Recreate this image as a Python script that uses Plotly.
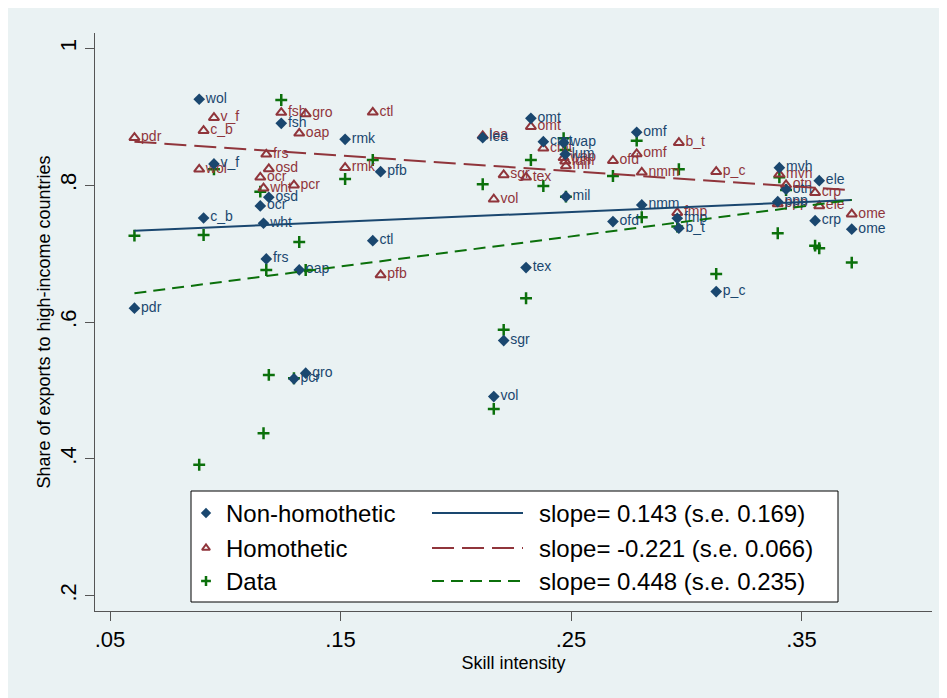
import plotly.graph_objects as go

# ---------------- data ----------------
industries = ["pdr", "wol", "c_b", "v_f", "ocr", "wht", "frs", "osd", "fsh", "pcr",
              "oap", "gro", "rmk", "ctl", "pfb", "lea", "vol", "sgr", "tex", "omt",
              "cmt", "wap", "lum", "mil", "ofd", "omf", "nmm", "fmp", "b_t", "p_c",
              "ppp", "mvh", "otn", "crp", "ele", "ome"]
skill = [0.0606, 0.0887, 0.0906, 0.0951, 0.1152, 0.1166, 0.1178, 0.1189, 0.1243, 0.1298,
         0.1321, 0.1349, 0.1520, 0.1640, 0.1674, 0.2117, 0.2165, 0.2208, 0.2305, 0.2326,
         0.2380, 0.2468, 0.2475, 0.2478, 0.2682, 0.2785, 0.2807, 0.2961, 0.2968, 0.3130,
         0.3397, 0.3404, 0.3433, 0.3559, 0.3577, 0.3718]
nonhomothetic = [0.6202, 0.9255, 0.7520, 0.8310, 0.7696, 0.7443, 0.6922, 0.7823, 0.8904, 0.5169,
                 0.6761, 0.5252, 0.8670, 0.7189, 0.8197, 0.8694, 0.4910, 0.5728, 0.6795, 0.8977,
                 0.8636, 0.8620, 0.8450, 0.7832, 0.7467, 0.8773, 0.7711, 0.7516, 0.7370, 0.6444,
                 0.7759, 0.8256, 0.7940, 0.7481, 0.8066, 0.7356]
homothetic = [0.8694, 0.8232, 0.8796, 0.8986, 0.8115, 0.7955, 0.8451, 0.8237, 0.9060, 0.7999,
              0.8758, 0.9040, 0.8256, 0.9065, 0.6688, 0.8719, 0.7794, 0.8149, 0.8115, 0.8855,
              0.8539, 0.8400, 0.8350, 0.8280, 0.8358, 0.8456, 0.8188, 0.7598, 0.8621, 0.8197,
              0.7725, 0.8159, 0.8003, 0.7890, 0.7696, 0.7575]
data_share = [0.7262, 0.3913, 0.7272, 0.8232, 0.7905, 0.4375, 0.6761, 0.5227, 0.9245, 0.5179,
              0.7170, 0.6760, 0.8090, 0.8368, None, 0.8013, 0.4730, 0.5885, 0.6348, 0.8368,
              0.7988, 0.8685, 0.8514, 0.7832, 0.8134, 0.8650, 0.7531, 0.7394, 0.8232, 0.6703,
              0.7297, 0.8115, 0.7930, 0.7116, 0.7078, 0.6868]

# fitted lines (end points)
fit_x = [0.0606, 0.3718]
fit_nonhom = [0.7335, 0.7784]
fit_hom = [0.8636, 0.7925]
fit_data = [0.6420, 0.7784]

legend_labels = ["Non-homothetic", "Homothetic", "Data"]
slope_labels = ["slope= 0.143 (s.e. 0.169)", "slope= -0.221 (s.e. 0.066)", "slope= 0.448 (s.e. 0.235)"]

x_ticks = [0.05, 0.15, 0.25, 0.35]
x_ticktext = [".05", ".15", ".25", ".35"]
y_ticks = [0.2, 0.4, 0.6, 0.8, 1.0]
y_ticktext = [".2", ".4", ".6", ".8", "1"]

# ---------------- styling ----------------
NAVY = "#1A476F"
MAROON = "#90353B"
GREEN = "#0B700B"
BG = "#EAF2F3"
FONT = "Arial, Liberation Sans, sans-serif"

# the page body has an 8px margin, so the figure is placed 8px in from the window edge
W, H = 939, 690
L, R, T, B = 87, 15, 25, 87
pw, ph = W - L - R, H - T - B
OFF = 8  # screen offset of the figure

fig = go.Figure()

# data marks
dx = [x for x, d in zip(skill, data_share) if d is not None]
dy = [d for d in data_share if d is not None]
fig.add_trace(go.Scatter(x=dx, y=dy, mode="markers", name="Data",
                         marker=dict(symbol="cross-thin-open", size=8.5, color=GREEN,
                                     line=dict(color=GREEN, width=2.5)),
                         showlegend=False))
fig.add_trace(go.Scatter(x=skill, y=homothetic, mode="markers+text", name="Homothetic",
                         text=industries, textposition="middle right",
                         textfont=dict(family=FONT, size=14, color=MAROON),
                         marker=dict(symbol="triangle-up-open", size=9, color=MAROON,
                                     line=dict(color=MAROON, width=2)),
                         showlegend=False))
fig.add_trace(go.Scatter(x=skill, y=nonhomothetic, mode="markers+text", name="Non-homothetic",
                         text=industries, textposition="middle right",
                         textfont=dict(family=FONT, size=14, color=NAVY),
                         marker=dict(symbol="diamond", size=9, color=NAVY),
                         showlegend=False))
fig.add_trace(go.Scatter(x=fit_x, y=fit_nonhom, mode="lines",
                         line=dict(color=NAVY, width=2), showlegend=False))
fig.add_trace(go.Scatter(x=fit_x, y=fit_hom, mode="lines",
                         line=dict(color=MAROON, width=2, dash="22px,8px"), showlegend=False))
fig.add_trace(go.Scatter(x=fit_x, y=fit_data, mode="lines",
                         line=dict(color=GREEN, width=2, dash="12px,7px"), showlegend=False))

# ---------------- legend box (screen-pixel coordinate overlay) ----------------
box = dict(x0=191, x1=838, y0=491, y1=602)
fig.add_trace(go.Scatter(x=[box["x0"], box["x1"], box["x1"], box["x0"], box["x0"]],
                         y=[box["y0"], box["y0"], box["y1"], box["y1"], box["y0"]],
                         mode="lines", fill="toself", fillcolor="white",
                         line=dict(color="black", width=1),
                         xaxis="x2", yaxis="y2", showlegend=False, hoverinfo="skip"))
rows = [513, 548, 581]
leg_markers = [dict(symbol="diamond", size=8, color=NAVY),
               dict(symbol="triangle-up-open", size=7, color=MAROON, line=dict(color=MAROON, width=2)),
               dict(symbol="cross-thin-open", size=7, color=GREEN, line=dict(color=GREEN, width=2.5))]
leg_lines = [dict(color=NAVY, width=2),
             dict(color=MAROON, width=2, dash="22px,8px"),
             dict(color=GREEN, width=2, dash="12px,7px")]
for ry, mk, ln, lab, slab in zip(rows, leg_markers, leg_lines, legend_labels, slope_labels):
    fig.add_trace(go.Scatter(x=[206], y=[ry], mode="markers", marker=mk,
                             xaxis="x2", yaxis="y2", showlegend=False, hoverinfo="skip"))
    fig.add_trace(go.Scatter(x=[432, 523], y=[ry, ry], mode="lines", line=ln,
                             xaxis="x2", yaxis="y2", showlegend=False, hoverinfo="skip"))
    fig.add_annotation(x=224, y=ry, xref="x2", yref="y2", text=lab, showarrow=False,
                       xanchor="left", yanchor="middle",
                       font=dict(family=FONT, size=24, color="black"))
    fig.add_annotation(x=537, y=ry, xref="x2", yref="y2", text=slab, showarrow=False,
                       xanchor="left", yanchor="middle",
                       font=dict(family=FONT, size=24, color="black"))

# outer graph-region background
fig.add_shape(type="rect", xref="paper", yref="paper", layer="below",
              x0=-L / pw, x1=(W - L) / pw,
              y0=-B / ph, y1=(H - B) / ph,
              fillcolor=BG, line=dict(width=0))

fig.update_layout(
    width=W, height=H,
    margin=dict(l=L, r=R, t=T, b=B, autoexpand=False),
    paper_bgcolor="white", plot_bgcolor="white",
    font=dict(family=FONT, color="black"),
    showlegend=False,
    xaxis=dict(range=[0.04349, 0.40662], tickvals=x_ticks, ticktext=x_ticktext,
               automargin=False,
               ticks="outside", ticklen=9, tickcolor="#555555", tickwidth=1,
               showline=True, linecolor="#555555", linewidth=1,
               showgrid=False, zeroline=False,
               tickfont=dict(size=22, color="black"),
               title=dict(text="Skill intensity", font=dict(size=18, color="black"), standoff=4)),
    yaxis=dict(range=[0.17765, 1.02235], tickvals=y_ticks, ticktext=y_ticktext,
               automargin=False, tickangle=-90,
               ticks="outside", ticklen=9, tickcolor="#555555", tickwidth=1,
               showline=True, linecolor="#555555", linewidth=1,
               showgrid=True, gridcolor=BG, gridwidth=2, zeroline=False,
               tickfont=dict(size=22, color="black"),
               title=dict(text="Share of exports to high-income countries",
                          font=dict(size=18, color="black"), standoff=0)),
    xaxis2=dict(overlaying="x", anchor="y2", range=[L + OFF, W - R + OFF],
                visible=False, fixedrange=True),
    yaxis2=dict(overlaying="y", anchor="x2", range=[H - B + OFF, T + OFF],
                visible=False, fixedrange=True),
)

fig.write_html("out.html")
